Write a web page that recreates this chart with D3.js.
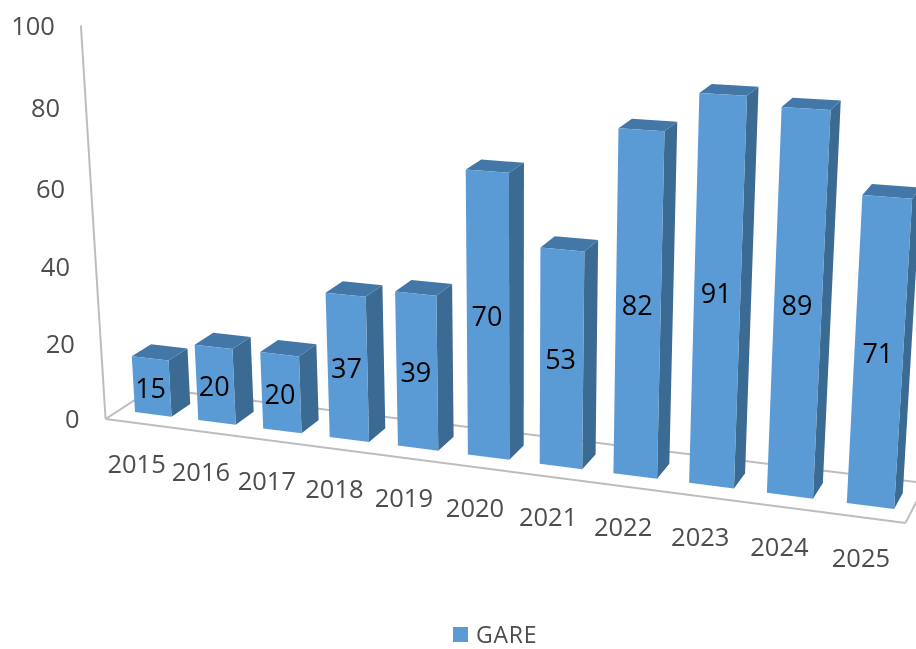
<!DOCTYPE html>
<html>
<head>
<meta charset="utf-8">
<style>
  html, body { margin: 0; background: #fff; }
  svg { display: block; filter: blur(0.7px); }
  text { font-family: "Open Sans", sans-serif; }
</style>
<script src="https://cdn.jsdelivr.net/npm/d3@7"></script>
</head>
<body>
<div id="root"></div>
<script>
// values
const years = ['2015', '2016', '2017', '2018', '2019', '2020', '2021', '2022', '2023', '2024', '2025'];
const gare = [15, 20, 20, 37, 39, 70, 53, 82, 91, 89, 71];
const yTicks = [0, 20, 40, 60, 80, 100];
const seriesName = 'GARE';

const width = 916;
const height = 649;

const colors = { front: '#5b9bd5', side: '#3b6a92', top: '#4277a8', grid: '#bdbdbd', tick: '#4d4d4d' };

// category position, one unit per year
const uScale = d3.scaleBand().domain(years).range([-0.21, 10.79]).paddingInner(0.42).paddingOuter(0.21);
const vScale = d3.scaleLinear().domain([0, 100]).range([0, 1]);

// floor extent in the same units, w is depth (0 = bar front, 1 = bar back)
const uMin = -0.25;
const uMax = 10.79;
const wFront = -0.7;
const wBack = 1.75;

// the chart is a 3d one, so everything goes through one perspective projection
const project = (u, value, w) => {
  const v = vScale(value);
  const d = 1 - 0.01214 * u - 0.056 * v + 0.0155 * w;
  return [
    (135 + 60.9 * u - 29 * v + 21.5 * w) / d,
    (412 + 2.99 * u - 392 * v - 6.4 * w) / d,
  ];
};

const polygon = d3.line().curve(d3.curveLinearClosed);

const svg = d3.select('#root').append('svg')
  .attr('width', width)
  .attr('height', height)
  .attr('viewBox', `0 0 ${width} ${height}`);

// floor and value axis
const gridLines = [
  [project(uMin, 0, wFront), project(uMin, 100, wFront)],
  [project(uMin, 0, wFront), project(uMax, 0, wFront)],
  [project(uMin, 0, wFront), project(uMin, 0, wBack)],
  [project(uMin, 0, wBack), project(uMax, 0, wBack)],
  [project(uMax, 0, wFront), project(uMax, 0, wBack)],
];

svg.selectAll('path.grid')
  .data(gridLines)
  .enter()
  .append('path')
  .attr('class', 'grid')
  .attr('d', d3.line())
  .attr('fill', 'none')
  .attr('stroke', colors.grid)
  .attr('stroke-width', 2);

// value labels
svg.selectAll('text.y')
  .data(yTicks)
  .enter()
  .append('text')
  .attr('class', 'y')
  .attr('x', d => project(uMin, d, wFront)[0] - 26)
  .attr('y', d => project(uMin, d, wFront)[1])
  .attr('dy', '0.36em')
  .attr('text-anchor', 'end')
  .attr('font-size', 25.5)
  .attr('fill', colors.tick)
  .text(d => d);

// year labels
svg.selectAll('text.x')
  .data(years)
  .enter()
  .append('text')
  .attr('class', 'x')
  .attr('x', d => project(uScale(d) + uScale.bandwidth() / 2, 0, wFront)[0] - 3)
  .attr('y', d => project(uScale(d) + uScale.bandwidth() / 2, 0, wFront)[1] + 40)
  .attr('dy', '0.36em')
  .attr('text-anchor', 'middle')
  .attr('font-size', 25.5)
  .attr('fill', colors.tick)
  .text(d => d);

// bars
const bars = svg.selectAll('g.bar')
  .data(years.map((year, i) => ({ year, value: gare[i] })))
  .enter()
  .append('g')
  .attr('class', 'bar');

const left = d => uScale(d.year);
const right = d => uScale(d.year) + uScale.bandwidth();

bars.append('path')
  .attr('fill', colors.side)
  .attr('d', d => polygon([
    project(right(d), 0, 0),
    project(right(d), 0, 1),
    project(right(d), d.value, 1),
    project(right(d), d.value, 0),
  ]));

bars.append('path')
  .attr('fill', colors.top)
  .attr('d', d => polygon([
    project(left(d), d.value, 0),
    project(right(d), d.value, 0),
    project(right(d), d.value, 1),
    project(left(d), d.value, 1),
  ]));

bars.append('path')
  .attr('fill', colors.front)
  .attr('d', d => polygon([
    project(left(d), 0, 0),
    project(right(d), 0, 0),
    project(right(d), d.value, 0),
    project(left(d), d.value, 0),
  ]));

bars.append('text')
  .attr('x', d => project((left(d) + right(d)) / 2, d.value * 0.515, 0)[0] - 1)
  .attr('y', d => project((left(d) + right(d)) / 2, d.value * 0.515, 0)[1] + 3)
  .attr('dy', '0.36em')
  .attr('text-anchor', 'middle')
  .attr('font-size', 27)
  .attr('fill', '#000')
  .text(d => d.value);

// legend
const legend = svg.append('g').attr('transform', 'translate(453 627)');

legend.append('rect')
  .attr('width', 15)
  .attr('height', 15)
  .attr('fill', colors.front);

legend.append('text')
  .attr('x', 23)
  .attr('y', 8)
  .attr('dy', '0.36em')
  .attr('font-size', 23)
  .attr('letter-spacing', 0.8)
  .attr('fill', colors.tick)
  .text(seriesName);
</script>
</body>
</html>
